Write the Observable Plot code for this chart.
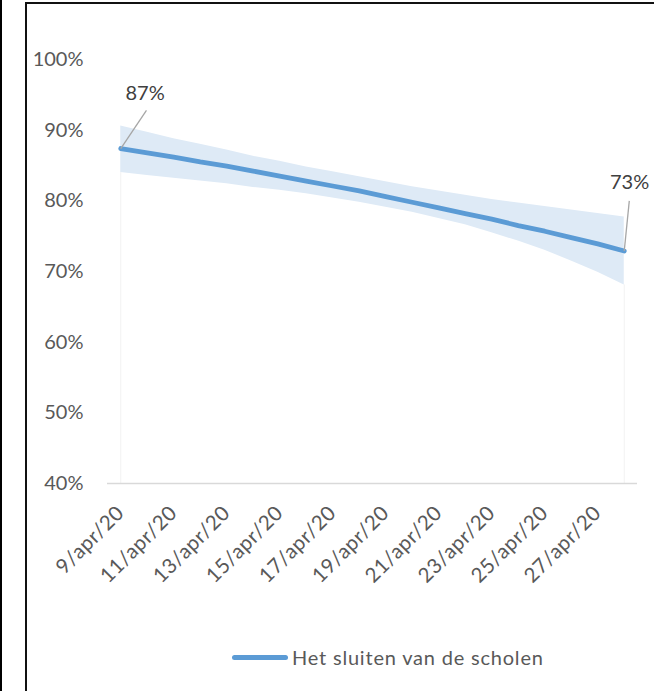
<!DOCTYPE html>
<html>
<head>
<meta charset="utf-8">
<script src="https://cdn.jsdelivr.net/npm/d3@7"></script>
<script src="https://cdn.jsdelivr.net/npm/@observablehq/plot@0.6"></script>
<style>
  html, body { margin: 0; padding: 0; background: #fff; width: 654px; height: 691px; overflow: hidden; }
  #page { position: relative; width: 654px; height: 691px; }
  #leftline { position: absolute; left: 0; top: 0; width: 2px; height: 691px; background: #000; }
  #frame { position: absolute; left: 25px; top: 2px; width: 640px; height: 700px; border-top: 2px solid #111; border-left: 2px solid #111; box-sizing: border-box; }
  #chart { position: absolute; left: 0; top: 0; }
  #legend { position: absolute; left: 232px; top: 645px; display: flex; align-items: center; font-family: Lato, "Open Sans", sans-serif; font-size: 20px; letter-spacing: 0.8px; color: #595959; }
  #legend .sw { width: 56px; height: 5px; border-radius: 3px; background: #5B9BD5; margin-right: 4px; }
  #chart g[aria-label="x-axis tick label"] text { letter-spacing: 0.6px; }
</style>
</head>
<body>
<div id="page">
  <div id="leftline"></div>
  <div id="frame"></div>
  <div id="chart"></div>
  <div id="legend"><span class="sw"></span><span id="legtext"></span></div>
</div>
<script>
const dates = ["2020-04-09","2020-04-10","2020-04-11","2020-04-12","2020-04-13","2020-04-14","2020-04-15","2020-04-16","2020-04-17","2020-04-18",
               "2020-04-19","2020-04-20","2020-04-21","2020-04-22","2020-04-23","2020-04-24","2020-04-25","2020-04-26","2020-04-27","2020-04-28"];
const trend = [87.4, 86.8, 86.2, 85.5, 84.9, 84.2, 83.5, 82.8, 82.1, 81.4,
               80.6, 79.8, 79.0, 78.2, 77.4, 76.5, 75.7, 74.8, 73.9, 72.9];
const upper = [90.6, 89.7, 88.8, 88.0, 87.2, 86.3, 85.6, 84.8, 84.1, 83.4,
               82.7, 82.0, 81.4, 80.8, 80.2, 79.7, 79.2, 78.7, 78.2, 77.7];
const lower = [84.0, 83.6, 83.2, 82.8, 82.4, 81.9, 81.5, 81.0, 80.4, 79.8,
               79.1, 78.4, 77.5, 76.6, 75.5, 74.3, 73.0, 71.5, 69.9, 68.1];
const tickDates = ["2020-04-09","2020-04-11","2020-04-13","2020-04-15","2020-04-17","2020-04-19","2020-04-21","2020-04-23","2020-04-25","2020-04-27"];
const tickLabels = ["9/apr/20","11/apr/20","13/apr/20","15/apr/20","17/apr/20","19/apr/20","21/apr/20","23/apr/20","25/apr/20","27/apr/20"];
const yTicks = [40, 50, 60, 70, 80, 90, 100];
const seriesName = "Het sluiten van de scholen";
const dataLabels = ["87%", "73%"];

document.getElementById("legtext").textContent = seriesName;

const DAY = 864e5;
const data = dates.map((d, i) => ({date: new Date(d), trend: trend[i], upper: upper[i], lower: lower[i]}));
const first = data[0], last = data[data.length - 1];
const tickDateObjs = tickDates.map(d => new Date(d));
const labelOf = new Map(tickDateObjs.map((d, i) => [+d, tickLabels[i]]));

const annotations = [
  {date: first.date, value: first.trend, text: dataLabels[0], lx: new Date(+first.date + 0.97 * DAY), ly: 92.8, tx: new Date(+first.date + 0.92 * DAY), ty: 95.2},
  {date: last.date, value: last.trend, text: dataLabels[1], lx: new Date(+last.date + 0.19 * DAY), ly: 80.0, tx: new Date(+last.date + 0.2 * DAY), ty: 82.6}
];

const chart = Plot.plot({
  width: 654,
  height: 600,
  marginLeft: 107,
  marginRight: 17,
  marginTop: 59,
  marginBottom: 117,
  style: {fontFamily: "Lato, 'Open Sans', sans-serif", fontSize: "19.5px", color: "#595959", background: "transparent"},
  x: {type: "utc", domain: [new Date(+first.date - 0.5 * DAY), new Date(+last.date + 0.5 * DAY)], axis: null},
  y: {domain: [40, 100], axis: null},
  marks: [
    Plot.ruleX([first, last], {x: "date", y1: 40, y2: "lower", stroke: "#f2f2f2", strokeWidth: 1}),
    Plot.areaY(data, {x: "date", y1: "lower", y2: "upper", fill: "#DEEAF6"}),
    Plot.ruleY([40], {stroke: "#D9D9D9", strokeWidth: 1.5}),
    Plot.axisY(yTicks, {tickSize: 0, tickPadding: 24, tickFormat: d => d + "%", fill: "#595959", fontSize: 20}),
    Plot.axisX(tickDateObjs, {tickSize: 0, tickPadding: 26, tickRotate: -45, tickFormat: d => labelOf.get(+d), fill: "#595959", fontSize: 20.5}),
    Plot.line(data, {x: "date", y: "trend", stroke: "#5B9BD5", strokeWidth: 4.8, strokeLinecap: "round", strokeLinejoin: "round"}),
    Plot.link(annotations, {x1: "date", y1: "value", x2: "lx", y2: "ly", stroke: "#A6A6A6", strokeWidth: 1.3}),
    Plot.text(annotations, {x: "tx", y: "ty", text: "text", fill: "#404040", fontSize: 20})
  ]
});
document.getElementById("chart").appendChild(chart);
</script>
</body>
</html>
